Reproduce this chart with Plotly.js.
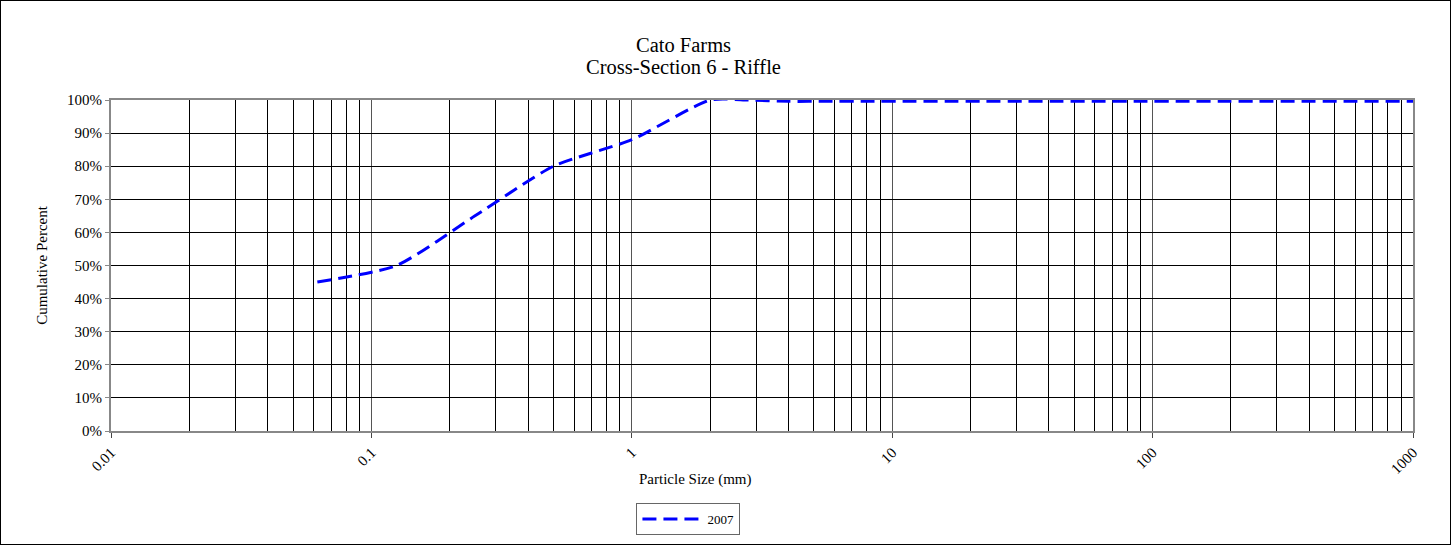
<!DOCTYPE html>
<html>
<head>
<meta charset="utf-8">
<script src="https://cdn.plot.ly/plotly-3.0.1.min.js"></script>
<style>
  html, body { margin: 0; padding: 0; background: #fff; }
  #frame { width: 1451px; height: 545px; box-sizing: border-box; border: 1px solid #000; overflow: hidden; }
  #chart { width: 1449px; height: 543px; }
</style>
</head>
<body>
<div id="frame"><div id="chart"></div></div>
<script>
// ---- data ----
const particleSize = [0.062, 0.125, 0.25, 0.5, 1, 2, 2.8, 4, 5.7, 8, 11.3, 16, 22.6, 32, 45, 64, 90, 128, 180, 256, 362, 512, 1024, 2048];
const cumulative2007 = [45, 50, 65, 80, 88, 100, 100, 99.6, 99.6, 99.6, 99.6, 99.6, 99.6, 99.6, 99.6, 99.6, 99.6, 99.6, 99.6, 99.6, 99.6, 99.6, 99.6, 99.6];
const seriesName = '2007';
const xTickVals = [0.01, 0.1, 1, 10, 100, 1000];
const xTickText = ['0.01', '0.1', '1', '10', '100', '1000'];
const titleLines = ['Cato Farms', 'Cross-Section 6 - Riffle'];
const xTitle = 'Particle Size (mm)';
const yTitle = 'Cumulative Percent';

// minor grid positions 2..9 in each decade
const minorVals = [];
for (let e = -2; e < 3; e++) {
  for (let d = 2; d <= 9; d++) minorVals.push(d * Math.pow(10, e));
}

const FONT = 'Liberation Serif, "Times New Roman", serif';

const trace = {
  x: particleSize,
  y: cumulative2007,
  name: seriesName,
  type: 'scatter',
  mode: 'lines',
  line: { color: '#0000FF', width: 3, dash: '14px,7px', shape: 'spline', smoothing: 0.6 },
  showlegend: true,
  cliponaxis: true
};

const H = 543;
const annotations = titleLines.map((t, i) => ({
  text: t,
  xref: 'paper', x: 0.44, xanchor: 'center',
  yref: 'paper', y: (430 - (i === 0 ? 44 : 66)) / 331, yanchor: 'middle',
  showarrow: false,
  font: { family: FONT, size: 20.5, color: '#000' }
}));
annotations.push({
  text: xTitle,
  xref: 'paper', x: 0.4485, xanchor: 'center',
  yref: 'paper', y: (430 - 478) / 331, yanchor: 'middle',
  showarrow: false,
  font: { family: FONT, size: 15, color: '#000' }
});

const layout = {
  width: 1449,
  height: H,
  margin: { l: 110, r: 37, t: 99, b: 113 },
  paper_bgcolor: '#fff',
  plot_bgcolor: '#fff',
  font: { family: FONT, size: 14, color: '#000' },
  annotations: annotations,
  xaxis: {
    type: 'log',
    range: [-2, 3],
    automargin: false,
    tickmode: 'array',
    tickvals: xTickVals,
    ticktext: xTickText,
    tickangle: -45,
    ticks: 'outside',
    ticklen: 5,
    tickcolor: '#444',
    showgrid: true,
    gridcolor: '#555',
    gridwidth: 1,
    minor: { tickmode: 'array', tickvals: minorVals, showgrid: true, gridcolor: '#000', gridwidth: 1, ticks: '' },
    showline: true,
    linecolor: '#888',
    linewidth: 2,
    mirror: true,
    zeroline: false,
    tickfont: { family: FONT, size: 15 },
    fixedrange: true
  },
  yaxis: {
    range: [0, 100],
    automargin: false,
    dtick: 10,
    ticksuffix: '%',
    ticks: 'outside',
    ticklen: 4,
    tickcolor: '#888',
    showgrid: true,
    gridcolor: '#000',
    gridwidth: 1,
    showline: true,
    linecolor: '#888',
    linewidth: 2,
    mirror: true,
    zeroline: false,
    tickfont: { family: FONT, size: 15 },
    title: { text: yTitle, font: { family: FONT, size: 15 }, standoff: 16 },
    fixedrange: true
  },
  showlegend: true,
  legend: {
    orientation: 'h',
    x: 0.4435, xref: 'paper', xanchor: 'center',
    y: 1 - 502 / H, yref: 'container', yanchor: 'top',
    bgcolor: '#fff',
    bordercolor: '#666',
    borderwidth: 1,
    font: { family: FONT, size: 13 },
    itemwidth: 60
  }
};

Plotly.newPlot('chart', [trace], layout, { displayModeBar: false, staticPlot: true });
</script>
</body>
</html>
